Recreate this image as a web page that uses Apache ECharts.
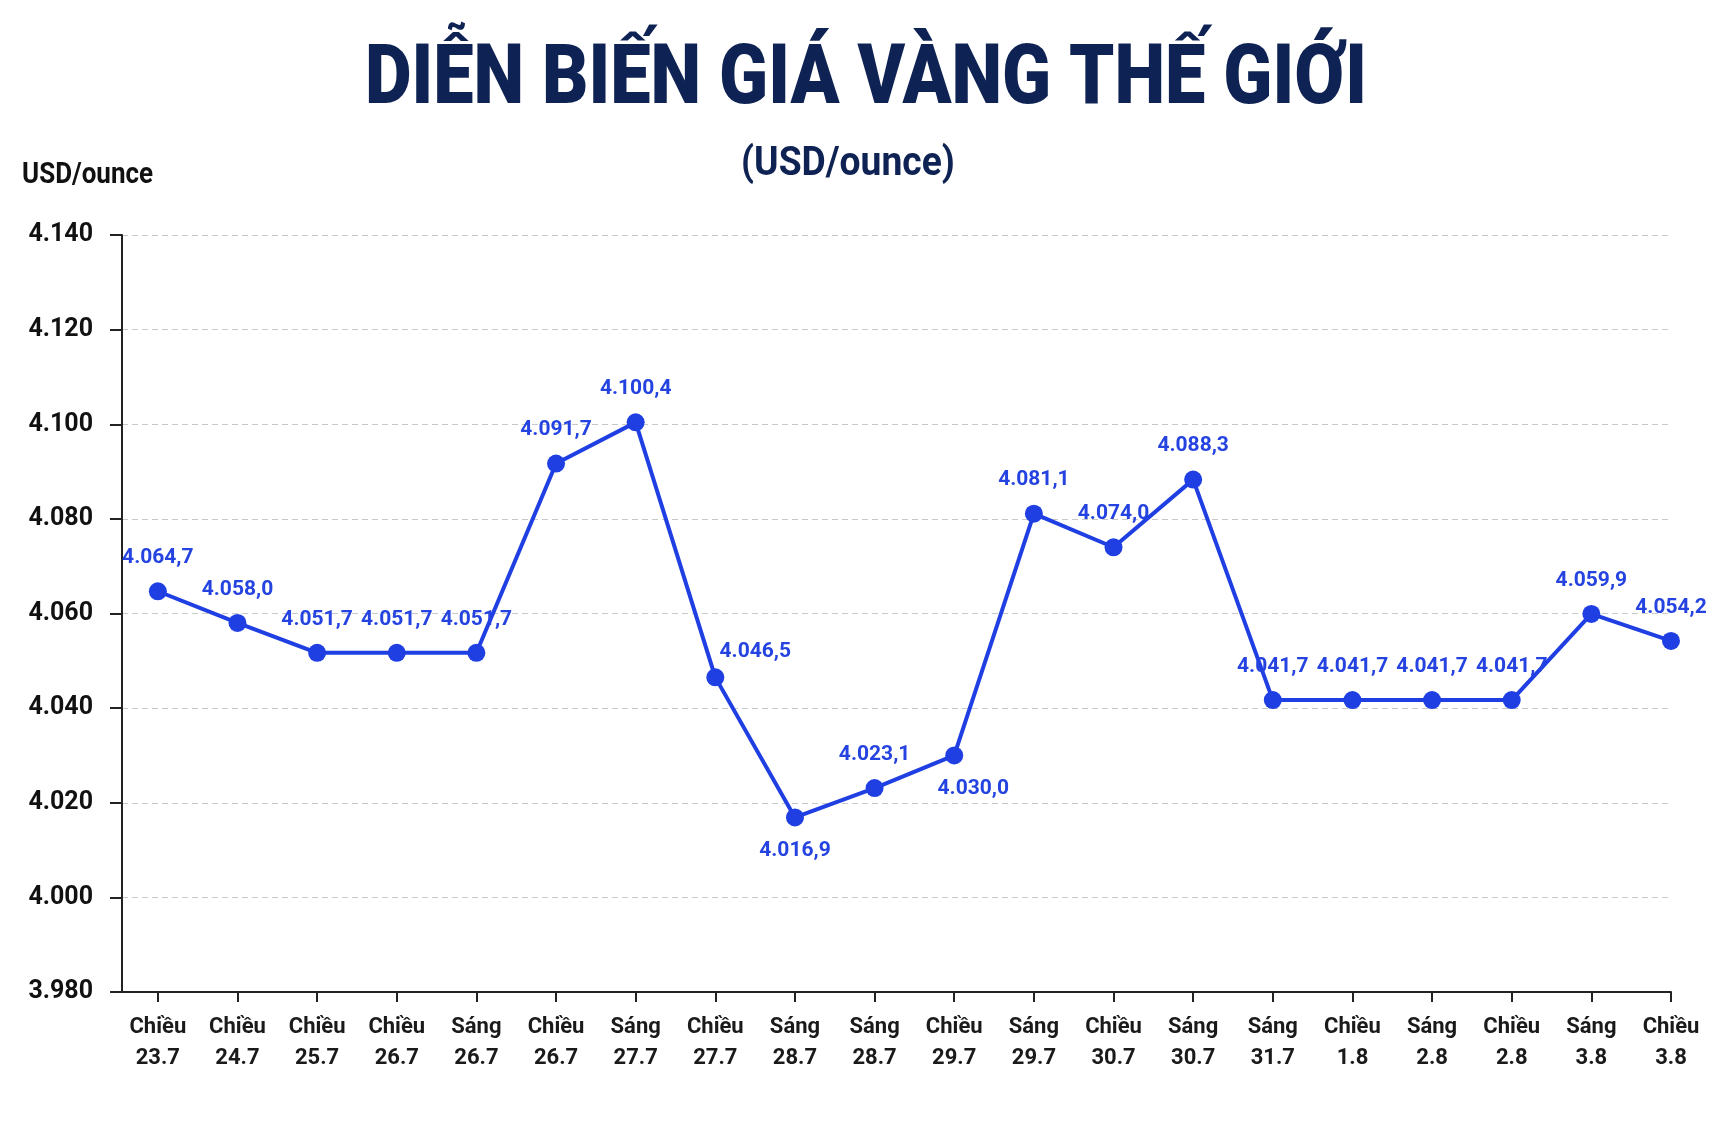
<!DOCTYPE html>
<html>
<head>
<meta charset="utf-8">
<script src="https://cdn.jsdelivr.net/npm/echarts@6/dist/echarts.min.js"></script>
<style>
html,body{margin:0;padding:0;background:#ffffff;}
#chart{width:1728px;height:1142px;}
</style>
</head>
<body>
<div id="chart"></div>
<script>
const titleText = 'DIỄN BIẾN GIÁ VÀNG THẾ GIỚI';
const subtitleText = '(USD/ounce)';
const unitText = 'USD/ounce';
const sessions = ['Chiều','Chiều','Chiều','Chiều','Sáng','Chiều','Sáng','Chiều','Sáng','Sáng','Chiều','Sáng','Chiều','Sáng','Sáng','Chiều','Sáng','Chiều','Sáng','Chiều'];
const dates = ['23.7','24.7','25.7','26.7','26.7','26.7','27.7','27.7','28.7','28.7','29.7','29.7','30.7','30.7','31.7','1.8','2.8','2.8','3.8','3.8'];
const prices = [4064.7,4058.0,4051.7,4051.7,4051.7,4091.7,4100.4,4046.5,4016.9,4023.1,4030.0,4081.1,4074.0,4088.3,4041.7,4041.7,4041.7,4041.7,4059.9,4054.2];
const yMin = 3980, yMax = 4140, yStep = 20;

function fmtThousands(s){ return s.replace(/\B(?=(\d{3})+(?!\d))/g, '.'); }
function fmtPrice(v){ const p = v.toFixed(1).split('.'); return fmtThousands(p[0]) + ',' + p[1]; }

const idx = prices.map((_, i) => i);
const labelOverrides = {
  7: {position: 'top', offset: [40, 8]},
  8: {position: 'bottom'},
  10: {position: 'bottom', offset: [19, 0]}
};
const seriesData = prices.map((v, i) => {
  const item = {value: [i, v]};
  if (labelOverrides[i]) item.label = labelOverrides[i];
  return item;
});

const chart = echarts.init(document.getElementById('chart'));
const navy = '#0e2253';
const blue = '#1f3fe3';
chart.setOption({
  backgroundColor: '#ffffff',
  animation: false,
  textStyle: {fontFamily: 'Roboto'},
  graphic: [
    {type: 'text', x: 866, y: 82, scaleX: 0.9, scaleY: 1.05, z: 10,
     style: {text: titleText, x: 0, y: 0, align: 'center', verticalAlign: 'middle', textAlign: 'center', textVerticalAlign: 'middle',
             fontFamily: 'Roboto', fontWeight: 900, fontSize: 80, fill: navy}},
    {type: 'text', x: 848, y: 165, scaleX: 0.98, scaleY: 1.05, z: 10,
     style: {text: subtitleText, x: 0, y: 0, align: 'center', verticalAlign: 'middle', textAlign: 'center', textVerticalAlign: 'middle',
             fontFamily: 'Roboto', fontWeight: 'bold', fontSize: 38, fill: navy}},
    {type: 'text', x: 22, y: 176, scaleY: 1.1, z: 10,
     style: {text: unitText, x: 0, y: 0, align: 'left', verticalAlign: 'middle', textAlign: 'left', textVerticalAlign: 'middle',
             fontFamily: 'Roboto', fontWeight: 'bold', fontSize: 26, fill: '#111111'}}
  ],
  grid: {left: 122, right: 57, top: 235, bottom: 150, containLabel: false},
  xAxis: {
    type: 'value',
    min: -0.45,
    max: 19,
    axisLine: {show: true, onZero: false, lineStyle: {color: '#222222', width: 2}},
    axisTick: {show: true, customValues: idx, length: 10, lineStyle: {color: '#222222', width: 2}},
    axisLabel: {
      show: true, customValues: idx, margin: 20,
      formatter: v => sessions[Math.round(v)] + '\n' + dates[Math.round(v)],
      color: '#1a1a1a', fontSize: 22, fontWeight: 'bold', lineHeight: 31, fontFamily: 'Roboto'
    },
    splitLine: {show: false}
  },
  yAxis: {
    type: 'value',
    min: yMin, max: yMax, interval: yStep,
    axisLine: {show: true, onZero: false, lineStyle: {color: '#222222', width: 2}},
    axisTick: {show: true, length: 12, lineStyle: {color: '#222222', width: 2}},
    axisLabel: {
      margin: 29,
      formatter: v => fmtThousands(String(v)),
      color: '#111111', fontSize: 25, fontWeight: 'bold', fontFamily: 'Roboto'
    },
    splitLine: {show: true, lineStyle: {color: '#c8c8c8', width: 1, type: [6, 4]}}
  },
  series: [{
    type: 'line',
    data: seriesData,
    symbol: 'circle',
    symbolSize: 18,
    lineStyle: {color: blue, width: 4},
    itemStyle: {color: blue},
    label: {
      show: true, position: 'top', distance: 14,
      formatter: p => fmtPrice(p.value[1]),
      color: '#2443e0', fontSize: 21, fontWeight: 'bold', fontFamily: 'Roboto'
    },
    z: 5
  }]
});
</script>
</body>
</html>
